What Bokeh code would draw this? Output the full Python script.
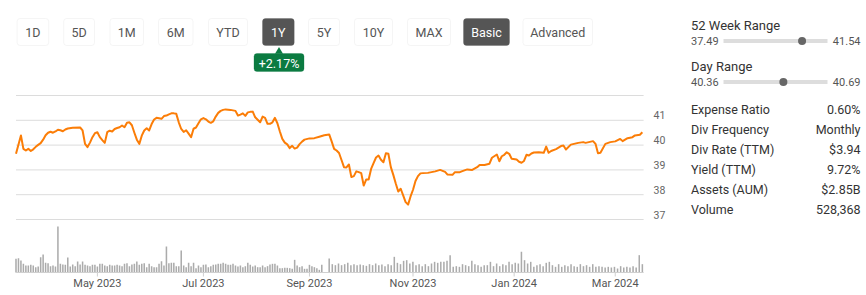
import numpy as np
import pandas as pd
from bokeh.plotting import figure
from bokeh.models import Range1d, BoxAnnotation
from bokeh.core.properties import value
from bokeh.embed import file_html
from bokeh.resources import INLINE

# ---------------- data ----------------
period_buttons = ["1D", "5D", "1M", "6M", "YTD", "1Y", "5Y", "10Y", "MAX", "Basic", "Advanced"]
active_buttons = ["1Y", "Basic"]
change_text = "+2.17%"

holidays = ["2023-04-07", "2023-05-29", "2023-06-19", "2023-07-04", "2023-09-04",
            "2023-11-23", "2023-12-25", "2024-01-01", "2024-01-15", "2024-02-19"]
first_session, last_session = "2023-03-14", "2024-03-18"

price_dates = [
    "2023-03-14", "2023-03-16", "2023-03-17", "2023-03-20", "2023-03-21", "2023-03-22", "2023-03-23",
    "2023-03-24", "2023-03-27", "2023-03-28", "2023-03-29", "2023-03-30", "2023-03-31", "2023-04-03",
    "2023-04-04", "2023-04-05", "2023-04-06", "2023-04-10", "2023-04-11", "2023-04-12", "2023-04-13",
    "2023-04-17", "2023-04-20", "2023-04-21", "2023-04-24", "2023-04-25", "2023-04-26", "2023-04-27",
    "2023-04-28", "2023-05-01", "2023-05-02", "2023-05-03", "2023-05-04", "2023-05-05", "2023-05-08",
    "2023-05-09", "2023-05-10", "2023-05-11", "2023-05-12", "2023-05-15", "2023-05-16", "2023-05-17",
    "2023-05-18", "2023-05-19", "2023-05-22", "2023-05-23", "2023-05-24", "2023-05-25", "2023-05-26",
    "2023-05-30", "2023-05-31", "2023-06-01", "2023-06-02", "2023-06-05", "2023-06-06", "2023-06-07",
    "2023-06-08", "2023-06-09", "2023-06-12", "2023-06-13", "2023-06-14", "2023-06-15", "2023-06-16",
    "2023-06-20", "2023-06-21", "2023-06-22", "2023-06-23", "2023-06-26", "2023-06-27", "2023-06-28",
    "2023-06-29", "2023-06-30", "2023-07-03", "2023-07-05", "2023-07-06", "2023-07-07", "2023-07-10",
    "2023-07-11", "2023-07-12", "2023-07-13", "2023-07-14", "2023-07-17", "2023-07-19", "2023-07-21",
    "2023-07-24", "2023-07-25", "2023-07-26", "2023-07-27", "2023-07-28", "2023-07-31", "2023-08-01",
    "2023-08-02", "2023-08-03", "2023-08-04", "2023-08-07", "2023-08-08", "2023-08-09", "2023-08-10",
    "2023-08-11", "2023-08-14", "2023-08-15", "2023-08-16", "2023-08-17", "2023-08-18", "2023-08-21",
    "2023-08-22", "2023-08-23", "2023-08-24", "2023-08-25", "2023-08-28", "2023-08-29", "2023-08-30",
    "2023-09-01", "2023-09-06", "2023-09-08", "2023-09-12", "2023-09-14", "2023-09-15", "2023-09-18",
    "2023-09-19", "2023-09-20", "2023-09-21", "2023-09-22", "2023-09-25", "2023-09-26", "2023-09-27",
    "2023-09-28", "2023-09-29", "2023-10-02", "2023-10-03", "2023-10-04", "2023-10-05", "2023-10-06",
    "2023-10-09", "2023-10-10", "2023-10-11", "2023-10-12", "2023-10-13", "2023-10-16", "2023-10-17",
    "2023-10-18", "2023-10-19", "2023-10-20", "2023-10-23", "2023-10-24", "2023-10-25", "2023-10-26",
    "2023-10-27", "2023-10-30", "2023-10-31", "2023-11-01", "2023-11-02", "2023-11-03", "2023-11-06",
    "2023-11-07", "2023-11-09", "2023-11-14", "2023-11-16", "2023-11-20", "2023-11-21", "2023-11-24",
    "2023-11-27", "2023-11-29", "2023-11-30", "2023-12-04", "2023-12-06", "2023-12-08", "2023-12-11",
    "2023-12-13", "2023-12-15", "2023-12-18", "2023-12-20", "2023-12-21", "2023-12-22", "2023-12-26",
    "2023-12-27", "2023-12-28", "2023-12-29", "2024-01-03", "2024-01-04", "2024-01-05", "2024-01-08",
    "2024-01-09", "2024-01-10", "2024-01-11", "2024-01-12", "2024-01-17", "2024-01-19", "2024-01-22",
    "2024-01-23", "2024-01-24", "2024-01-26", "2024-01-30", "2024-01-31", "2024-02-01", "2024-02-05",
    "2024-02-08", "2024-02-12", "2024-02-13", "2024-02-16", "2024-02-20", "2024-02-21", "2024-02-22",
    "2024-02-26", "2024-02-28", "2024-03-01", "2024-03-05", "2024-03-06", "2024-03-08", "2024-03-12",
    "2024-03-13", "2024-03-15", "2024-03-18",
]
price_values = [
    39.65, 40.39, 39.85, 39.78, 39.85, 39.76, 39.83,
    39.93, 40.01, 40.08, 40.22, 40.40, 40.50, 40.54,
    40.50, 40.55, 40.62, 40.60, 40.56, 40.63, 40.67,
    40.70, 40.71, 40.59, 40.05, 39.92, 40.10, 40.32,
    40.48, 40.52, 40.32, 40.20, 40.09, 40.52, 40.58,
    40.55, 40.65, 40.69, 40.72, 40.79, 40.72, 40.90,
    40.92, 40.80, 40.50, 40.22, 40.05, 40.38, 40.59,
    40.68, 40.59, 40.85, 41.03, 41.10, 41.08, 41.06,
    41.17, 41.19, 41.24, 41.28, 41.28, 41.26, 40.92,
    40.65, 40.53, 40.60, 40.46, 40.32, 40.66, 40.71,
    40.88, 41.04, 41.09, 41.04, 40.95, 40.90, 40.96,
    41.15, 41.30, 41.38, 41.42, 41.44, 41.42, 41.38,
    41.19, 41.23, 41.28, 41.18, 41.32, 41.34, 41.35,
    41.12, 41.02, 40.92, 41.15, 41.10, 40.86, 40.86,
    40.92, 41.10, 40.88, 40.55, 40.25, 40.10, 40.03,
    39.88, 39.97, 39.86, 39.90, 40.04, 40.14, 40.22,
    40.27, 40.28, 40.34, 40.40, 40.43, 40.15, 39.85,
    39.78, 39.68, 39.40, 39.11, 39.10, 39.22, 38.71,
    38.75, 38.94, 38.91, 38.87, 38.37, 38.61, 38.61,
    39.04, 39.27, 39.50, 39.58, 39.41, 39.31, 39.67,
    39.65, 39.11, 38.80, 38.45, 38.13, 38.24, 37.97,
    37.70, 37.60, 37.93, 38.20, 38.55, 38.75, 38.86,
    38.87, 38.88, 38.94, 39.00, 38.92, 38.81, 38.80,
    38.91, 38.91, 38.95, 39.02, 39.00, 39.11, 39.20,
    39.20, 39.25, 39.49, 39.62, 39.35, 39.55, 39.61,
    39.71, 39.65, 39.45, 39.42, 39.33, 39.29, 39.36,
    39.61, 39.58, 39.66, 39.70, 39.71, 39.69, 39.94,
    39.69, 39.76, 39.84, 39.96, 39.98, 39.82, 40.02,
    40.09, 40.12, 40.09, 40.16, 40.05, 39.67, 39.69,
    40.05, 40.12, 40.15, 40.25, 40.16, 40.28, 40.32,
    40.39, 40.42, 40.52,
]

# daily volume, thousands of shares
volumes_early = [  # first sessions, from 2023-03-14
    820, 860, 720, 520, 420, 420, 460, 420, 320, 360,
    920, 1080, 580, 560, 380, 420, 360, 2760, 520, 480,
    460, 900, 360, 480, 380, 660, 480, 660, 460, 420,
    380, 460, 460, 360, 520, 520, 420, 380, 460, 420,
    420, 460, 420, 380, 520, 560, 380, 480, 520, 660,
    460, 520, 560, 320, 520, 380, 320, 320, 520, 680,
    420, 1560, 560, 580, 580, 380, 380, 1320, 420, 320,
    580, 380, 580, 260, 420, 320, 460, 480, 320, 380,
    460, 480, 520, 520, 580, 520, 460, 460, 520, 420,
    360, 420, 320, 380, 580, 460, 360, 420, 320, 320,
    420, 320, 380, 480, 520, 520, 420, 260, 260, 280,
    280, 260, 220, 760, 420, 320, 380, 220, 220, 460,
    380, 320, 260, 160, 460,
]
volumes_late = [  # later sessions, up to 2024-03-18
    840, 500, 440, 540, 440, 500, 580, 440, 500, 440,
    480, 440, 400, 500, 440, 540, 440, 480, 380, 500,
    440, 940, 580, 500, 700, 740, 540, 640, 440, 500,
    380, 500, 380, 540, 640, 580, 640, 640, 700, 1040,
    340, 380, 340, 500, 440, 380, 700, 500, 440, 340,
    440, 440, 640, 380, 540, 380, 500, 440, 640, 500,
    580, 540, 1240, 740, 540, 640, 340, 440, 500, 380,
    580, 640, 440, 340, 500, 340, 440, 380, 500, 380,
    340, 500, 380, 440, 340, 500, 340, 380, 340, 300,
    340, 300, 340, 240, 380, 300, 340, 300, 380, 300,
    1040, 500,
]

month_ticks = ["2023-05", "2023-07", "2023-09", "2023-11", "2024-01", "2024-03"]
month_labels = ["May 2023", "Jul 2023", "Sep 2023", "Nov 2023", "Jan 2024", "Mar 2024"]
price_ticks = [37, 38, 39, 40, 41]
grid_levels = [37, 38, 39, 40, 41, 42]

range_titles = ["52 Week Range", "Day Range"]
range_lows = [37.49, 40.36]
range_highs = [41.54, 40.69]
last_price = 40.55

stat_names = ["Expense Ratio", "Div Frequency", "Div Rate (TTM)", "Yield (TTM)", "Assets (AUM)", "Volume"]
stat_values = ["0.60%", "Monthly", "$3.94", "9.72%", "$2.85B", "528,368"]

# ---------------- layout constants ----------------
W, H = 866, 295
FONT = "Roboto"
X0, PX_PER_SESSION = 15.5, 2.466          # chart placement in the window
Y37, PX_PER_DOLLAR = 219.0, 24.8
VOL_BASE, VOL_PER_PX = 272.0, 60.0
ORANGE = "#fb7d07"

sessions = pd.bdate_range(first_session, last_session, freq="C", holidays=holidays)
n = len(sessions)
pos = {d: i for i, d in enumerate(sessions)}
price_x = [pos[pd.Timestamp(d)] for d in price_dates]
late_x = np.linspace(len(volumes_early) + 2, n - 1, len(volumes_late))
vol_x = list(range(len(volumes_early))) + list(late_x)
volumes = volumes_early + volumes_late
tick_x = [next(i for i, d in enumerate(sessions) if d.strftime("%Y-%m") == m) for m in month_ticks]

p = figure(width=W, height=H, output_backend="svg", toolbar_location=None,
           x_range=Range1d(0, W), y_range=Range1d(H, 0),
           x_axis_type=None, y_axis_type=None, min_border=0,
           outline_line_color=None, background_fill_color="white", border_fill_color="white")
p.extra_x_ranges = {"t": Range1d((0 - X0) / PX_PER_SESSION, (W - X0) / PX_PER_SESSION)}
p.extra_y_ranges = {
    "price": Range1d(37 - (H - Y37) / PX_PER_DOLLAR, 37 + Y37 / PX_PER_DOLLAR),
    "vol": Range1d(-(H - VOL_BASE) * VOL_PER_PX, VOL_BASE * VOL_PER_PX),
}

# grid lines
p.segment(x0=[0] * len(grid_levels), x1=[n - 0.5] * len(grid_levels), y0=grid_levels, y1=grid_levels,
          x_range_name="t", y_range_name="price", line_color="#dcdcdc", line_width=1)
# volume
p.vbar(x=vol_x, top=volumes, bottom=0, width=0.62, x_range_name="t", y_range_name="vol",
       fill_color="#ababab", line_color=None)
p.segment(x0=[0], x1=[n - 0.5], y0=[0], y1=[0], x_range_name="t", y_range_name="vol",
          line_color="#d0d0d0", line_width=1)
p.segment(x0=tick_x, x1=tick_x, y0=[0] * len(tick_x), y1=[-4 * VOL_PER_PX] * len(tick_x),
          x_range_name="t", y_range_name="vol", line_color="#d0d0d0", line_width=1)
p.text(x=tick_x, y=[283] * len(tick_x), text=month_labels, x_range_name="t",
       text_font=value(FONT), text_font_size=value("11px"), text_color="#555555",
       text_align="center", text_baseline="middle")
# price line
p.line(x=price_x, y=price_values, x_range_name="t", y_range_name="price",
       line_color=ORANGE, line_width=2, line_join="round")
# price labels
p.text(x=[653] * len(price_ticks), y=price_ticks, text=[str(t) for t in price_ticks],
       y_range_name="price", y_offset=-5, text_font=value(FONT), text_font_size=value("10.5px"),
       text_color="#666666", text_align="left", text_baseline="middle")

# buttons
btn_left = [16.6, 63.2, 109.5, 158.0, 208.0, 262.0, 308.0, 354.0, 407.0, 463.0, 522.5]
btn_right = [48.2, 94.0, 143.0, 192.5, 247.0, 293.7, 339.0, 392.0, 450.0, 509.0, 592.0]
for lab, l, r in zip(period_buttons, btn_left, btn_right):
    on = lab in active_buttons
    p.add_layout(BoxAnnotation(left=l, right=r, top=18, bottom=45, border_radius=3,
                               fill_color="#555555" if on else "white", fill_alpha=1,
                               line_color="#555555" if on else "#dddddd", line_width=1, level="underlay"))
p.text(x=[(l + r) / 2 for l, r in zip(btn_left, btn_right)], y=[31.5] * len(period_buttons),
       text=period_buttons, text_font=value(FONT), text_font_size=value("12.5px"),
       text_color=["white" if b in active_buttons else "#555555" for b in period_buttons],
       text_align="center", text_baseline="middle")
# change badge
p.add_layout(BoxAnnotation(left=253.5, right=303.5, top=53, bottom=71, border_radius=3,
                           fill_color="#0b7b41", fill_alpha=1, line_color="#0b7b41", level="underlay"))
p.scatter(x=[278.5], y=[51], marker="triangle", size=8, fill_color="#0b7b41", line_color=None)
p.text(x=[278.5], y=[62.5], text=[change_text], text_font=value(FONT), text_font_size=value("12.5px"),
       text_color="white", text_align="center", text_baseline="middle")

# right panel
RX, RR = 690.5, 860.0
BAR_L, BAR_R = 723.0, 827.0
title_y = [25, 66]
bar_y = [40.5, 81.5]
p.text(x=[RX] * 2, y=title_y, text=range_titles, text_font=value(FONT), text_font_size=value("13px"),
       text_color="#333333", text_baseline="middle")
p.segment(x0=[BAR_L] * 2, x1=[BAR_R] * 2, y0=bar_y, y1=bar_y, line_color="#dddddd", line_width=4)
dot_x = [BAR_L + (last_price - lo) / (hi - lo) * (BAR_R - BAR_L) for lo, hi in zip(range_lows, range_highs)]
p.scatter(x=dot_x, y=bar_y, size=8, fill_color="#666666", line_color=None)
p.text(x=[RX] * 2, y=bar_y, text=[f"{v:.2f}" for v in range_lows], text_font=value(FONT),
       text_font_size=value("11px"), text_color="#555555", text_baseline="middle")
p.text(x=[RR] * 2, y=bar_y, text=[f"{v:.2f}" for v in range_highs], text_font=value(FONT),
       text_font_size=value("11px"), text_color="#555555", text_baseline="middle", text_align="right")
row_y = [108.5 + 20 * i for i in range(len(stat_names))]
p.text(x=[RX] * len(stat_names), y=row_y, text=stat_names, text_font=value(FONT),
       text_font_size=value("12.5px"), text_color="#333333", text_baseline="middle")
p.text(x=[RR] * len(stat_values), y=row_y, text=stat_values, text_font=value(FONT),
       text_font_size=value("12.5px"), text_color="#333333", text_baseline="middle", text_align="right")

open("out.html", "w").write(file_html(p, INLINE))
